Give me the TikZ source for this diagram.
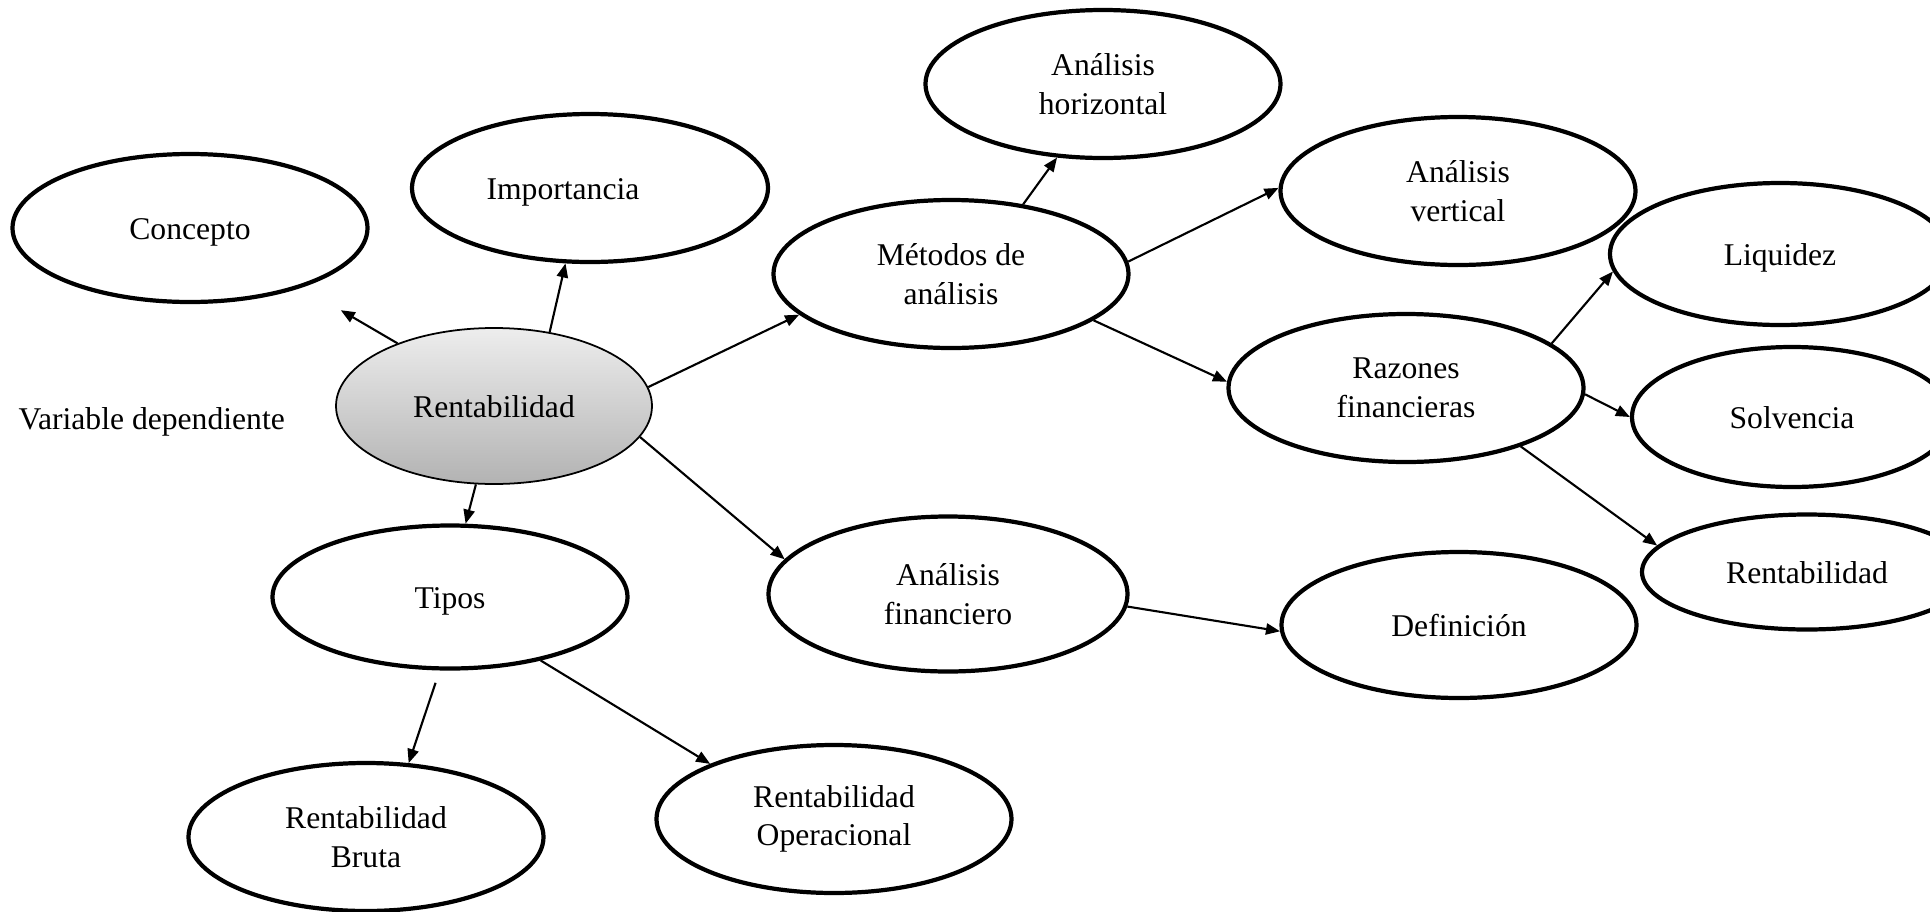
\documentclass[tikz,border=0pt]{standalone}
\usepackage{fontspec}
\setmainfont{Liberation Serif}
\usetikzlibrary{arrows.meta, shapes.geometric}

\begin{document}
\begin{tikzpicture}[
    bubble/.style={ellipse, draw=black, line width=1.2pt, inner sep=1pt,
      minimum width=3.55cm, minimum height=1.48cm, align=center,
      font=\fontsize{9}{11}\selectfont},
    solo/.style={bubble, text height=2.6mm, text depth=0.3mm},
    core/.style={solo, line width=0.5pt, top color=black!7, bottom color=black!30,
      minimum width=3.16cm, minimum height=1.56cm},
    link/.style={-{Triangle[length=4pt,width=3.2pt]}, line width=0.6pt},
  ]
    \useasboundingbox (0,0) rectangle (19.3,-9.12);
    \clip (0,0) rectangle (19.3,-9.12);
    \node[core] (rent) at (4.94,-4.06) {Rentabilidad};
    \node[font=\fontsize{9}{11}\selectfont, anchor=west, inner sep=0pt] (variable) at (0.18,-4.22) {Variable dependiente};
    \node[solo] (concepto) at (1.90,-2.28) {Concepto};
    \node[solo, minimum width=3.56cm] (importancia) at (5.90,-1.88) {Importancia\hspace*{0.54cm}};
    \node[bubble] (horizontal) at (11.03,-0.84) {Análisis\\horizontal};
    \node[bubble] (metodos) at (9.51,-2.74) {Métodos de\\análisis};
    \node[bubble] (vertical) at (14.58,-1.91) {Análisis\\vertical};
    \node[bubble] (razones) at (14.06,-3.88) {Razones\\financieras};
    \node[solo, minimum width=3.4cm, minimum height=1.42cm] (liquidez) at (17.80,-2.54) {Liquidez};
    \node[solo, minimum width=3.2cm, minimum height=1.40cm] (solvencia) at (17.92,-4.17) {Solvencia};
    \node[solo, minimum width=3.3cm, minimum height=1.15cm] (rentR) at (18.07,-5.72) {Rentabilidad};
    \node[solo, minimum height=1.43cm] (tipos) at (4.50,-5.97) {Tipos};
    \node[bubble, minimum width=3.59cm, minimum height=1.55cm] (financiero) at (9.48,-5.94) {Análisis\\financiero};
    \node[solo, minimum height=1.46cm] (definicion) at (14.59,-6.25) {Definición};
    \node[bubble] (bruta) at (3.66,-8.37) {Rentabilidad\\Bruta};
    \node[bubble] (operacional) at (8.34,-8.19) {Rentabilidad\\Operacional};

    \draw[link, shorten >=0.45cm] (rent.147) -- (concepto.-28);
    \draw[link] (rent.53) -- (importancia.252);
    \draw[link] (rent.7) -- (metodos.195);
    \draw[link] (rent.257) -- (tipos.78);
    \draw[link] (rent.-12) -- (financiero.168);
    \draw[link] (metodos.44) -- (horizontal.238);
    \draw[link] (metodos.4) -- (vertical.179);
    \draw[link] (metodos.-18) -- (razones.178);
    \draw[link] (razones.17) -- (liquidez.186);
    \draw[link] (razones.-2) -- (solvencia.180);
    \draw[link] (razones.-27) -- (rentR.170);
    \draw[link] (financiero.-4) -- (definicion.182);
    \draw[link, shorten <=0.13cm] (tipos.262) -- (bruta.60);
    \draw[link] (tipos.-35) -- (operacional.156);
  \end{tikzpicture}
\end{document}
